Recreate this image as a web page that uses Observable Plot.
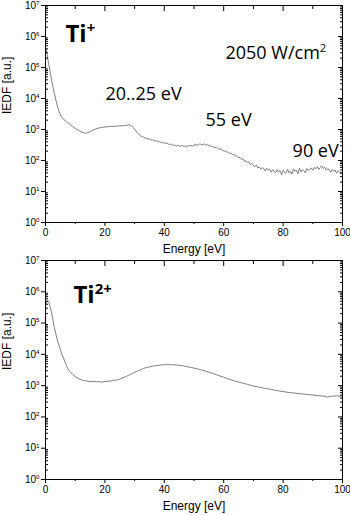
<!DOCTYPE html>
<html><head><meta charset="utf-8">
<script src="https://cdn.jsdelivr.net/npm/d3@7"></script>
<script src="https://cdn.jsdelivr.net/npm/@observablehq/plot@0.6"></script>
<style>
body{margin:0;background:#fff}
#c{position:relative;width:350px;height:515px;background:#fff}
#c svg{position:absolute;left:0;display:block}
</style>
</head><body><div id="c"></div>
<script>
// ---- Ti+ spectrum: energy [eV] and log10(IEDF [a.u.])
const energyTi1 = [0.3,0.6,1,1.5,2,2.5,3,3.5,4,4.5,5,5.5,6,7,8,9,10,11,12,13,13.5,14,15,16,17,18,19,20,21,22,23,24,25,26,27,28,28.5,29,29.5,30,30.5,31,31.5,32,32.5,33,33.5,34,
34.5,35,35.5,36,36.5,37,37.5,38,38.5,39,39.5,40,40.5,41,41.5,42,
42.5,43,43.5,44,44.5,45,45.5,46,46.5,47,47.5,48,48.5,49,49.5,50,
50.5,51,51.5,52,52.5,53,53.5,54,54.5,55,55.5,56,56.5,57,57.5,58,
58.5,59,59.5,60,60.5,61,61.5,62,62.5,63,63.5,64,64.5,65,65.5,66,
66.5,67,67.5,68,68.5,69,69.5,70,70.5,71,71.5,72,72.5,73,73.5,74,
74.5,75,75.5,76,76.5,77,77.5,78,78.5,79,79.5,80,80.5,81,81.5,82,
82.5,83,83.5,84,84.5,85,85.5,86,86.5,87,87.5,88,88.5,89,89.5,90,
90.5,91,91.5,92,92.5,93,93.5,94,94.5,95,95.5,96,96.5,97,97.5,98,
98.5,99,99.5,100];
const logIedfTi1 = [5.58,5.4,5.15,4.88,4.62,4.38,4.15,3.95,3.76,3.6,3.48,3.4,3.34,3.26,3.18,3.11,3.04,2.98,2.93,2.89,2.88,2.89,2.93,2.98,3.02,3.05,3.07,3.08,3.09,3.1,3.1,3.11,3.12,3.12,3.13,3.15,3.14,3.12,3.07,3.01,2.95,2.89,2.84,2.8,2.77,2.75,2.73,2.71,
2.70,2.69,2.66,2.67,2.64,2.63,2.64,2.6,2.61,2.57,2.58,2.56,2.55,2.56,2.52,2.53,
2.51,2.49,2.5,2.47,2.49,2.48,2.45,2.49,2.46,2.47,2.44,2.48,2.47,2.49,2.46,2.5,
2.52,2.49,2.51,2.54,2.51,2.52,2.53,2.5,2.51,2.49,2.46,2.47,2.43,2.42,2.43,2.39,
2.36,2.37,2.33,2.31,2.3,2.27,2.28,2.23,2.24,2.19,2.2,2.14,2.15,2.09,2.1,2.03,
2.06,1.97,1.99,1.93,1.95,1.86,1.91,1.84,1.8,1.86,1.76,1.79,1.72,1.77,1.74,1.66,
1.75,1.69,1.72,1.62,1.7,1.66,1.6,1.71,1.63,1.67,1.54,1.68,1.62,1.59,1.72,1.6,
1.66,1.56,1.73,1.65,1.69,1.58,1.75,1.63,1.7,1.67,1.6,1.74,1.68,1.72,1.76,1.69,
1.78,1.73,1.8,1.71,1.77,1.83,1.74,1.79,1.68,1.74,1.7,1.62,1.71,1.66,1.69,1.59,
1.67,1.63,1.56,1.65];

// ---- Ti2+ spectrum
const energyTi2 = [0,0.4,0.8,1.2,1.6,2,2.5,3,3.5,4,4.5,5,5.5,6,6.5,7,7.5,8,9,10,11,12,13,14,15,16,17,18,19,20,21,22,23,24,25,26,27,28,29,30,31,32,33,34,35,36,37,38,39,40,41,42,43,44,45,46,47,48,49,50,51,52,53,54,55,56,57,58,59,60,62,64,66,68,70,72,74,76,78,80,82,84,86,88,90,92,94,95,96,98,100];
const logIedfTi2 = [5.55,5.68,5.72,5.65,5.5,5.35,5.1,4.85,4.65,4.45,4.3,4.15,4.0,3.9,3.78,3.65,3.55,3.47,3.37,3.29,3.23,3.19,3.16,3.15,3.13,3.14,3.12,3.13,3.11,3.13,3.14,3.15,3.17,3.18,3.21,3.25,3.29,3.33,3.38,3.43,3.47,3.51,3.55,3.58,3.6,3.62,3.64,3.65,3.66,3.67,3.67,3.67,3.67,3.66,3.65,3.64,3.62,3.6,3.58,3.56,3.54,3.51,3.49,3.46,3.43,3.4,3.37,3.33,3.3,3.27,3.2,3.14,3.09,3.04,2.99,2.95,2.91,2.88,2.84,2.81,2.78,2.76,2.74,2.72,2.7,2.68,2.66,2.63,2.66,2.67,2.66];

// ---- axes
const xMajorTicks = [0,20,40,60,80,100];
const xMinorTicks = [10,30,50,70,90];
const yDecades = [0,1,2,3,4,5,6,7];
const yMinorMantissas = [2,3,4,5,6,7,8,9];
const xTitle = "Energy [eV]";
const yTitle = "IEDF [a.u.]";

// ---- annotations ("^" marks a superscript); positions in data units
const annTi1Text = ["20..25 eV","2050 W/cm^2","55 eV","90 eV"];
const annTi1X = [20.2,60.6,53.9,83.2];
const annTi1LogY = [3.94,5.29,3.1,2.1];
const titleTi1 = {t:"Ti^+", x:6.7, logY:5.81};
const titleTi2 = {t:"Ti^2+", x:9.4, logY:5.63};

const yMajorTicks = yDecades.map(n => 10 ** n);
const yMinorTicks = yDecades.slice(0, -1).flatMap(n => yMinorMantissas.map(m => m * 10 ** n));

function panel({energy, logv, ann, title, marginTop, height}) {
  const data = energy.map((e, i) => ({e, v: 10 ** logv[i]}));
  const marks = [
    Plot.line(data, {x: "e", y: "v", stroke: "#707070", strokeWidth: 0.9}),
    Plot.frame({stroke: "black", strokeWidth: 1}),
    // bottom
    Plot.axisX({anchor: "bottom", ticks: xMajorTicks, tickSize: 4, tickPadding: 2, label: null, fontSize: 10, tickFormat: d => String(d)}),
    Plot.axisX({anchor: "bottom", ticks: xMinorTicks, tickSize: 2, label: null, tickFormat: () => ""}),
    // top (inward)
    Plot.axisX({anchor: "top", ticks: xMajorTicks, tickSize: 5, dy: 5, label: null, tickFormat: () => ""}),
    Plot.axisX({anchor: "top", ticks: xMinorTicks, tickSize: 3, dy: 3, label: null, tickFormat: () => ""}),
    // left
    Plot.axisY({anchor: "left", ticks: yMajorTicks, tickSize: 4, tickPadding: 2, label: null, fontSize: 10, tickFormat: d => "10^" + Math.round(Math.log10(d))}),
    Plot.axisY({anchor: "left", ticks: yMinorTicks, tickSize: 3, dx: 3, label: null, tickFormat: () => ""}),
    // right (inward)
    Plot.axisY({anchor: "right", ticks: yMajorTicks, tickSize: 5, dx: -5, label: null, tickFormat: () => ""}),
    Plot.axisY({anchor: "right", ticks: yMinorTicks, tickSize: 3, dx: -3, label: null, tickFormat: () => ""}),
    Plot.text([xTitle], {frameAnchor: "bottom", dy: 30, fontSize: 12, fill: "black"}),
    Plot.text([yTitle], {frameAnchor: "left", dx: -38, rotate: -90, fontSize: 12, fill: "black"}),
    Plot.text([title], {x: "x", y: d => 10 ** d.logY, text: "t", textAnchor: "start", lineAnchor: "bottom",
      fontSize: 24, fontWeight: "bold", fontFamily: "'Open Sans', sans-serif", fill: "black"})
  ];
  if (ann) {
    marks.push(Plot.text(ann.text, {x: (d, i) => ann.x[i], y: (d, i) => 10 ** ann.logY[i], text: d => d,
      textAnchor: "start", lineAnchor: "bottom", fontSize: 18, fontFamily: "'Open Sans', sans-serif", fill: "black"}));
  }
  return Plot.plot({
    width: 350, height, marginLeft: 45, marginRight: 8, marginTop, marginBottom: 36,
    style: {fontFamily: "'Liberation Sans', Arial, sans-serif", fontSize: "10px", background: "white", color: "black", overflow: "visible"},
    x: {domain: [0, 100]},
    y: {type: "log", domain: [1, 1e7]},
    marks
  });
}

function superscripts(svg) {
  d3.select(svg).selectAll("text").each(function() {
    if (this.querySelector("tspan")) return;
    const t = this.textContent;
    if (!t.includes("^")) return;
    const [a, b] = t.split("^");
    this.textContent = a;
    d3.select(this).append("tspan").attr("font-size", "0.62em").attr("dy", "-0.62em").text(b);
  });
}

const c = document.getElementById("c");
const p1 = panel({energy: energyTi1, logv: logIedfTi1, ann: {text: annTi1Text, x: annTi1X, logY: annTi1LogY}, title: titleTi1, marginTop: 5, height: 258});
p1.style.top = "0px";
c.appendChild(p1); superscripts(p1);
const p2 = panel({energy: energyTi2, logv: logIedfTi2, ann: null, title: titleTi2, marginTop: 2, height: 257});
p2.style.top = "258px";
c.appendChild(p2); superscripts(p2);
</script>
</body></html>
